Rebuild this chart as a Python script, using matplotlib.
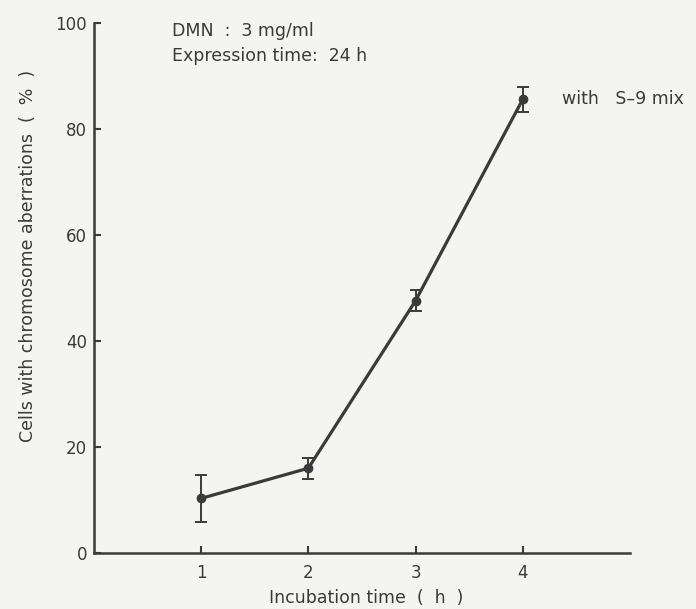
import matplotlib
matplotlib.use("Agg")
import matplotlib.pyplot as plt

incubation_time = [1, 2, 3, 4]
aberrations = [10.3, 16.0, 47.6, 85.6]
err = [4.4, 2.0, 2.0, 2.3]
x_ticks = [1, 2, 3, 4]
y_ticks = [0, 20, 40, 60, 80, 100]

plt.rcParams['font.family'] = ['DejaVu Sans']
ink = '#3a3a3a'
bg = '#f4f4f3'

fig = plt.figure(figsize=(6.96, 6.09), dpi=100, facecolor=bg)
ax = fig.add_axes([0.135, 0.092, 0.77, 0.870])
ax.set_facecolor(bg)

ax.errorbar(incubation_time, aberrations, yerr=err, color=ink, lw=2.3,
            marker='o', ms=6, mfc=ink, mec=ink, ecolor=ink, elinewidth=1.4,
            capsize=4.5, capthick=1.4)

ax.set_xlim(0, 5)
ax.set_ylim(0, 100)
ax.set_xticks(x_ticks)
ax.set_yticks(y_ticks)
for s in ['top', 'right']:
    ax.spines[s].set_visible(False)
for s in ['left', 'bottom']:
    ax.spines[s].set_color(ink)
    ax.spines[s].set_linewidth(1.8)
ax.tick_params(direction='in', length=5, width=1.5, color=ink,
               labelcolor=ink, labelsize=12)
ax.tick_params(axis='x', pad=8)
ax.tick_params(axis='y', pad=5)

ax.set_xlabel('Incubation time  (  h  )', fontsize=12.5, color=ink, va='center')
ax.xaxis.set_label_coords(0.508, -0.085)
ax.set_ylabel('Cells with chromosome aberrations  (  %  )', fontsize=12.5,
              color=ink, va='center')
ax.yaxis.set_label_coords(-0.123, 0.56)

ax.text(0.73, 98.5, 'DMN  :  3 mg/ml', fontsize=12.5, color=ink, va='center')
ax.text(0.73, 93.8, 'Expression time:  24 h', fontsize=12.5, color=ink, va='center')
ax.text(4.37, 85.6, 'with   S\u20139 mix', fontsize=12.5, color=ink, va='center')

fig.savefig('out.png', dpi=100, facecolor=bg)
